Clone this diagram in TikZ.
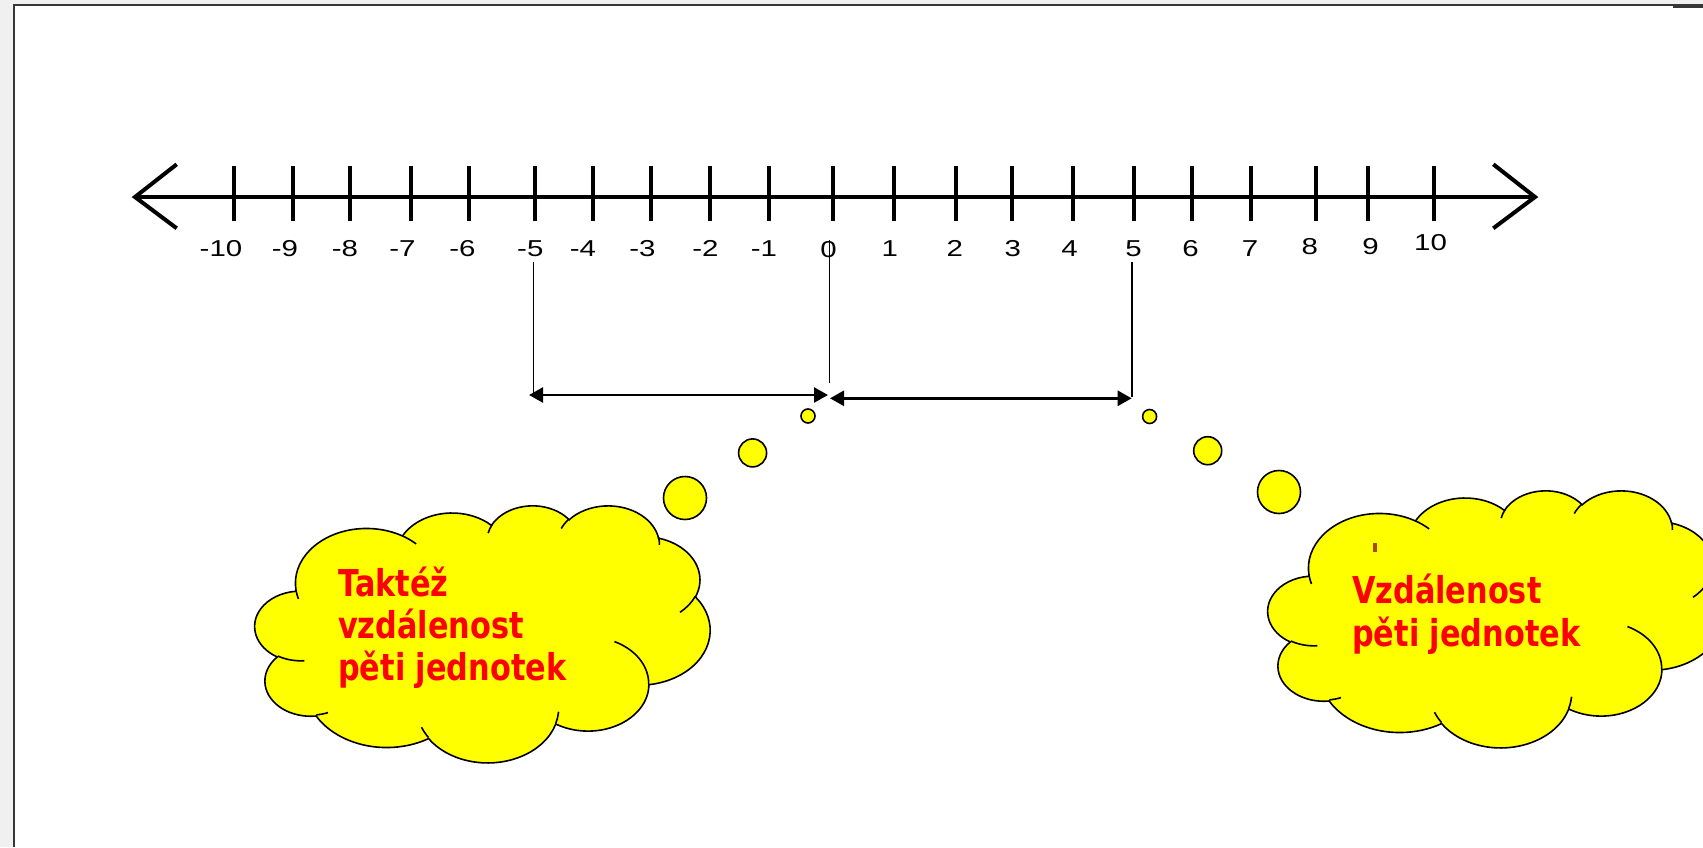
\documentclass[tikz,border=0pt]{standalone}
\usepackage{fontspec}
\setmainfont{Liberation Sans}
\newfontfamily\numfont[FakeStretch=1.28]{Liberation Sans}
\newfontfamily\cloudfont[FakeStretch=0.82]{DejaVu Sans}
\usetikzlibrary{arrows.meta}

\definecolor{pagegray}{RGB}{240,240,240}
\definecolor{framegray}{RGB}{55,55,55}
\definecolor{cloudyellow}{RGB}{255,255,0}
\definecolor{textred}{RGB}{255,0,0}
\definecolor{markbrown}{RGB}{170,70,20}

% Elliptic arc of the cloud outline. Radii #1,#2; start angle #3 and sweep #4
% are measured along the ray from the centre, so they are turned into the
% parameter angles that TikZ's arc uses.
\newcommand\cloudarc[4]{%
  \pgfextra{%
    \pgfmathparse{atan2((#1)*sin(#3),(#2)*cos(#3))}\global\let\cldA\pgfmathresult
    \pgfmathparse{atan2((#1)*sin(#3+#4),(#2)*cos(#3+#4))}\global\let\cldB\pgfmathresult
    \pgfmathparse{\cldB-(\cldA)}\global\let\cldD\pgfmathresult
    \pgfmathparse{\cldD<0 ? \cldD+360 : \cldD}\global\let\cldD\pgfmathresult
  }%
  arc[start angle=\cldA, delta angle=\cldD, x radius=#1, y radius=#2]%
}

% Cloud in a 432 x 432 box (y pointing down): filled outline and inner creases
\newcommand\cloudshape{%
  \filldraw[cloudbody] (39.00,143.70)
    \cloudarc{67.53}{91.90}{-190.4875}{123.7805}
    \cloudarc{53.33}{72.67}{-144.1024}{89.9452}
    \cloudarc{43.65}{59.45}{-145.8079}{99.7230}
    \cloudarc{48.57}{65.95}{-130.9861}{117.2417}
    \cloudarc{53.33}{72.73}{-78.7089}{109.0269}
    \cloudarc{67.75}{92.20}{-46.2673}{130.2690}
    \cloudarc{57.85}{78.67}{0.6250}{114.0333}
    \cloudarc{67.52}{92.15}{22.4516}{115.1726}
    \cloudarc{77.20}{105.43}{66.2426}{75.7110}
    \cloudarc{43.60}{59.18}{-274.9421}{146.7356}
    \cloudarc{43.45}{59.45}{-246.8285}{152.5179}
    -- cycle;
  \draw[cloudbody, fill=none]
    (46.93,261.77) \cloudarc{43.45}{59.45}{86.7420}{26.4295}
    (69.28,348.99) \cloudarc{43.60}{59.18}{73.6105}{11.4475}
    (164.78,390.90) \cloudarc{67.52}{92.15}{137.6242}{14.0811}
    (288.27,347.51) \cloudarc{67.52}{92.15}{6.4533}{15.9984}
    (341.29,229.54) \cloudarc{57.85}{78.67}{-70.2924}{70.9174}
    (417.98,153.54) \cloudarc{53.33}{72.73}{30.3180}{27.7515}
    (383.24,54.26) \cloudarc{48.57}{65.95}{-13.7443}{14.8589}
    (290.78,39.52) \cloudarc{48.57}{65.95}{-149.1815}{18.1954}
    (221.41,47.20) \cloudarc{43.65}{59.45}{-163.4943}{17.6864}
    (140.00,51.92) \cloudarc{67.53}{91.90}{-66.7070}{12.3194}
    (41.27,157.89) \cloudarc{67.53}{91.90}{157.6544}{11.8582};
}

\tikzset{
  axisline/.style={line width=4pt, line join=miter},
  tickmark/.style={line width=4pt},
  numlabel/.style={font=\numfont\fontsize{23}{27}\selectfont, inner sep=0pt, anchor=center},
  guide/.style={line width=1.6pt},
  span/.style={line width=2.6pt, {Triangle[length=14pt,width=15pt]}-{Triangle[length=14pt,width=15pt]}},
  cloudbody/.style={draw=black, fill=cloudyellow, line width=1.6pt},
  bubble/.style={circle, draw=black, fill=cloudyellow, line width=1.6pt, inner sep=0pt},
  cloudtext/.style={font=\cloudfont\bfseries\fontsize{37}{44}\selectfont, text=textred, inner sep=0pt, anchor=base west},
}

\begin{document}
\begin{tikzpicture}[x=1pt, y=-1pt]
\useasboundingbox (0,0) rectangle (1703,847);

% page and frame
\fill[pagegray] (0,0) rectangle (1703,847);
\fill[white] (14,4.5) rectangle (1703,847);
\draw[framegray, line width=2pt] (14,847) -- (14,4.5) -- (1703,4.5);
\fill[framegray] (1673,4) rectangle (1703,7.5);

% number line with arrow ends
\coordinate (L) at (135,197);
\coordinate (R) at (1535,197);
\draw[axisline] (L) -- (R);
\draw[axisline] (176.7,164.3) -- (L) -- (176.7,228.3);
\draw[axisline] (1493.3,164.3) -- (R) -- (1493.3,228.3);

% ticks
\foreach \tx in {233.7,293,350.4,410.8,469,534.5,593.4,651.2,709.5,768.8,832.8,
                 894,956.4,1011.6,1072.9,1133.6,1191.6,1251.2,1316.3,1368.3,1433.9}
  \draw[tickmark] (\tx,166) -- (\tx,221);

% tick labels
\foreach \lx/\ly/\lt [count=\k] in {221/248.3/-10, 285/248.3/-9, 345/248.3/-8, 402.5/248.3/-7,
    462.5/248.3/-6, 530.3/248.3/-5, 583/248.3/-4, 642.4/248.3/-3, 705.5/248.3/-2, 764/248.3/-1,
    828.5/249.5/0, 889.7/248.3/1, 954.7/248.3/2, 1012.7/248.3/3, 1069.6/248.3/4, 1133.6/248.3/5,
    1190.5/248.3/6, 1250/248.3/7, 1309.8/246.5/8, 1370.5/246.5/9, 1430.6/243/10}
  \node[numlabel] (lab\k) at (\lx,\ly) {\lt};

% guide lines down from -5, 0 and 5
\coordinate (gA1) at (533.5,262);   \coordinate (gA2) at (533.5,393);
\coordinate (gB1) at (829.5,240);   \coordinate (gB2) at (829.5,383);
\coordinate (gC1) at (1131.7,262);  \coordinate (gC2) at (1131.7,397);
\draw[guide] (gA1) -- (gA2);
\draw[guide] (gB1) -- (gB2);
\draw[guide] (gC1) -- (gC2);

% the two distances
\coordinate (sA1) at (529,395);   \coordinate (sA2) at (828,395);
\coordinate (sB1) at (830,398.3); \coordinate (sB2) at (1131.7,398.3);
\draw[span] (sA1) -- (sA2);
\draw[span] (sB1) -- (sB2);

% thought bubbles
\node[bubble, minimum size=14pt] (lb1) at (808,416) {};
\node[bubble, minimum size=28pt] (lb2) at (752.6,452.9) {};
\node[bubble, minimum size=43pt] (lb3) at (685,498) {};
\node[bubble, minimum size=14pt] (rb1) at (1149.6,416.5) {};
\node[bubble, minimum size=28pt] (rb2) at (1207.7,450.7) {};
\node[bubble, minimum size=43pt] (rb3) at (1279,492) {};

% clouds
\begin{scope}[shift={(255,505)}, x=1.0532pt, y=-0.5949pt]
  \cloudshape
\end{scope}
\begin{scope}[shift={(1268,490)}, x=1.0532pt, y=-0.5949pt]
  \cloudshape
\end{scope}

% cloud texts
\node[cloudtext] (lt1) at (338,596.5) {Taktéž};
\node[cloudtext] (lt2) at (338,638.5) {vzdálenost};
\node[cloudtext] (lt3) at (338,680.5) {pěti jednotek};
\fill[markbrown] (1373,543) rectangle (1377,552);
\node[cloudtext] (rt1) at (1352,603) {Vzdálenost};
\node[cloudtext] (rt2) at (1352,646) {pěti jednotek};
\end{tikzpicture}
\end{document}
